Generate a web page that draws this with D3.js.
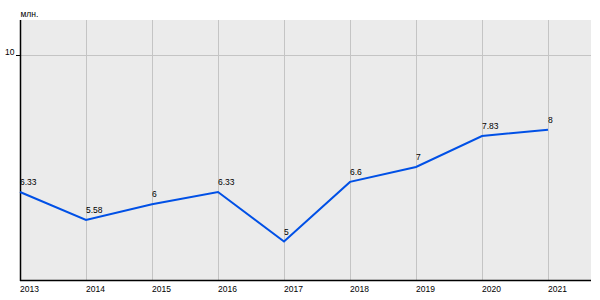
<!DOCTYPE html>
<html><head><meta charset="utf-8">
<script src="https://cdn.jsdelivr.net/npm/d3@7"></script>
<style>body{margin:0;background:#fff}svg text{font-family:"Liberation Sans",Arial,sans-serif;fill:#000}</style>
</head><body><svg id="c" width="600" height="300"></svg>
<script>
const years = ["2013","2014","2015","2016","2017","2018","2019","2020","2021"];
const values = [6.33,5.58,6,6.33,5,6.6,7,7.83,8];
const labels = ["6.33","5.58","6","6.33","5","6.6","7","7.83","8"];
const yTicks = [10];
const unitLabel = "млн.";

const svg = d3.select("#c");
const L=20, R=591, T=20, B=280;
const x = d3.scalePoint().domain(years).range([L, 548]);
const y = d3.scaleLinear().domain([3.97, 10.94]).range([B, T]);

svg.append("rect").attr("x",L).attr("y",T).attr("width",R-L).attr("height",B-T).attr("fill","#ebebeb");
svg.append("g").selectAll("line").data(years.slice(1)).join("line")
  .attr("x1",d=>x(d)+0.5).attr("x2",d=>x(d)+0.5).attr("y1",T).attr("y2",B)
  .attr("stroke","#c4c4c4").attr("stroke-width",1);
svg.append("g").selectAll("line").data(yTicks).join("line")
  .attr("x1",L).attr("x2",R).attr("y1",d=>Math.round(y(d))+0.5).attr("y2",d=>Math.round(y(d))+0.5)
  .attr("stroke","#c4c4c4").attr("stroke-width",1);
const yg = svg.append("g");
yg.selectAll("line").data(yTicks).join("line")
  .attr("x1",16).attr("x2",L).attr("y1",d=>Math.round(y(d))+0.5).attr("y2",d=>Math.round(y(d))+0.5)
  .attr("stroke","#000");
yg.selectAll("text").data(yTicks).join("text")
  .attr("x",14.5).attr("y",d=>y(d)).attr("text-anchor","end").attr("font-size","8.5px").text(d=>d);
svg.append("line").attr("x1",L+0.5).attr("x2",L+0.5).attr("y1",T).attr("y2",B+1).attr("stroke","#000").attr("stroke-width",1.5);
svg.append("line").attr("x1",L).attr("x2",R).attr("y1",B+0.5).attr("y2",B+0.5).attr("stroke","#000").attr("stroke-width",1.5);
svg.append("g").selectAll("text").data(years).join("text")
  .attr("x",d=>x(d)).attr("y",292).attr("font-size","8.5px").text(d=>d);
svg.append("text").attr("x",20.5).attr("y",17).attr("font-size","8.5px").text(unitLabel);
const pts = years.map((yr,i)=>({yr,v:values[i],l:labels[i]}));
svg.append("path").datum(pts)
  .attr("d",d3.line().x(d=>x(d.yr)).y(d=>y(d.v)))
  .attr("fill","none").attr("stroke","#0050e6").attr("stroke-width",2);
svg.append("g").selectAll("text").data(pts).join("text")
  .attr("x",d=>x(d.yr)).attr("y",d=>y(d.v)-7).attr("font-size","8.5px").text(d=>d.l);
</script></body></html>
